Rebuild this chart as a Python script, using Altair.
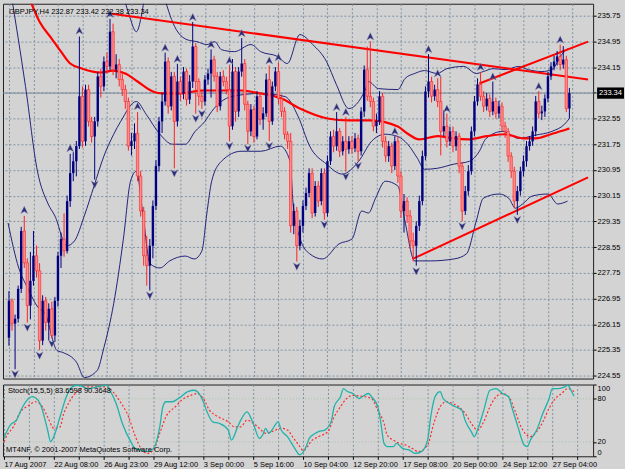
import json
import altair as alt
import pandas as pd

# ---------------- price data (GBPJPY H4) ----------------
FIRST_OPEN = 225.73
CLOSE = [226.88, 226.17, 226.32, 227.25, 229.05, 228.06, 226.73, 227.50, 228.28, 227.81,
         225.64, 226.88, 226.20, 226.63, 225.80, 226.88, 228.28, 228.80, 228.43, 229.98,
         230.85, 231.22, 231.69, 233.24, 231.84, 233.45, 232.46, 231.99, 232.46, 233.86,
         233.55, 234.32, 234.17, 235.25, 234.07, 234.23, 233.76, 233.45, 233.08, 231.69,
         231.84, 232.09, 230.76, 229.67, 228.28, 227.97, 228.59, 229.83, 231.07, 232.46,
         233.08, 234.32, 232.93, 233.86, 232.46, 233.70, 233.33, 234.01, 233.14, 233.70,
         234.79, 233.70, 233.24, 233.08, 233.76, 233.95, 234.38, 233.86, 232.93, 233.86,
         233.70, 233.45, 232.31, 234.01, 232.77, 234.01, 234.26, 232.99, 232.15, 232.83,
         231.99, 233.24, 232.52, 232.71, 233.76, 232.46, 233.55, 234.01, 233.17, 232.77,
         232.06, 231.84, 229.21, 229.67, 228.59, 229.21, 229.83, 230.23, 230.85, 229.61,
         230.45, 229.98, 230.85, 229.61, 231.22, 231.99, 231.69, 232.15, 231.53, 231.84,
         231.59, 231.84, 231.62, 231.93, 231.53, 232.77, 234.07, 233.24, 233.08, 232.31,
         232.46, 233.24, 231.84, 231.38, 231.69, 231.07, 231.84, 230.76, 229.67, 229.98,
         229.52, 228.74, 228.59, 229.21, 229.98, 231.38, 233.39, 233.70, 233.24, 233.45,
         233.08, 232.15, 232.31, 231.84, 232.15, 231.69, 232.00, 231.07, 229.67, 230.29,
         230.91, 232.15, 233.08, 233.61, 233.24, 232.93, 233.17, 232.77, 233.08, 232.71,
         232.93, 232.31, 232.15, 231.38, 230.91, 229.98, 230.29, 230.91, 231.22, 231.69,
         231.84, 232.15, 233.08, 232.71, 232.77, 233.17, 233.86, 234.17, 234.32, 234.48,
         234.23, 234.38, 232.86, 233.34]
HIGH = [227.18, 226.95, 226.45, 227.35, 229.18, 229.52, 228.20, 228.40, 229.05, 228.60,
        228.05, 227.05, 227.00, 226.80, 226.85, 227.00, 228.40, 229.00, 229.60, 230.15,
        231.45, 231.50, 231.85, 235.10, 233.55, 233.60, 233.60, 232.60, 232.60, 234.00,
        234.10, 234.48, 234.60, 235.65, 235.50, 234.55, 234.40, 233.95, 233.60, 233.20,
        232.10, 232.40, 232.75, 230.92, 229.80, 228.90, 228.80, 230.00, 231.25, 232.60,
        233.35, 234.60, 234.45, 234.00, 234.00, 234.25, 233.85, 234.15, 234.10, 233.90,
        235.55, 234.90, 233.80, 233.40, 233.90, 234.10, 234.70, 234.50, 234.00, 234.00,
        234.05, 233.85, 234.20, 234.40, 234.15, 234.15, 235.05, 234.40, 233.10, 233.00,
        232.95, 233.40, 233.35, 232.90, 233.95, 234.20, 233.70, 234.15, 234.30, 233.30,
        232.90, 232.15, 232.10, 229.90, 229.80, 229.40, 230.00, 230.40, 231.00, 231.00,
        230.60, 230.60, 231.00, 231.00, 231.40, 232.15, 232.20, 232.75, 232.25, 232.00,
        232.60, 232.00, 232.00, 232.10, 232.05, 232.90, 234.20, 234.79, 234.95, 233.20,
        232.70, 233.40, 233.35, 232.00, 231.85, 231.80, 232.00, 232.00, 230.90, 230.20,
        230.10, 229.70, 229.00, 229.35, 230.15, 231.55, 233.55, 234.55, 233.85, 233.60,
        233.80, 233.85, 232.80, 232.70, 232.30, 232.30, 232.15, 232.10, 231.20, 230.45,
        231.10, 232.30, 233.25, 233.80, 234.00, 233.40, 233.35, 233.30, 233.70, 233.20,
        233.10, 233.05, 232.45, 232.25, 231.50, 231.05, 230.45, 231.05, 231.40, 231.85,
        232.00, 232.30, 233.25, 233.40, 232.95, 233.30, 234.00, 234.30, 234.50, 234.65,
        234.85, 234.80, 234.50, 233.50]
LOW = [225.48, 225.95, 224.75, 226.20, 227.12, 227.90, 226.20, 226.30, 227.35, 227.60,
       225.35, 225.50, 225.95, 225.65, 225.72, 225.60, 226.70, 227.90, 228.25, 228.35,
       229.80, 230.60, 230.75, 231.60, 231.65, 231.70, 232.30, 231.80, 230.65, 232.30,
       233.20, 233.40, 233.95, 234.05, 233.90, 233.80, 233.55, 233.25, 232.85, 231.55,
       231.40, 231.60, 230.60, 229.50, 227.97, 227.35, 227.20, 228.20, 229.70, 230.90,
       232.10, 232.95, 232.70, 232.80, 231.00, 232.30, 233.10, 233.15, 232.95, 233.00,
       233.50, 232.70, 232.95, 232.85, 232.95, 233.60, 233.20, 233.70, 232.75, 232.80,
       233.55, 233.30, 231.85, 232.20, 232.45, 232.60, 233.85, 232.80, 231.75, 232.00,
       231.80, 231.90, 232.35, 232.20, 232.60, 231.85, 232.35, 233.40, 233.00, 232.60,
       231.90, 231.60, 229.00, 228.95, 228.10, 228.45, 229.00, 229.70, 230.10, 229.45,
       229.50, 229.80, 229.85, 229.40, 229.50, 231.10, 231.50, 231.55, 231.35, 231.40,
       230.90, 231.45, 231.45, 231.50, 231.22, 231.40, 232.60, 233.10, 232.90, 232.15,
       232.10, 232.35, 231.65, 231.20, 231.20, 230.85, 230.95, 230.55, 229.45, 229.00,
       229.30, 228.50, 228.10, 227.97, 229.05, 229.85, 231.25, 233.20, 233.05, 233.10,
       232.90, 231.40, 232.00, 231.65, 231.70, 231.50, 231.55, 230.85, 229.35, 229.55,
       230.15, 230.80, 232.00, 232.95, 233.10, 232.75, 232.80, 232.60, 232.65, 232.55,
       232.55, 232.15, 231.95, 231.20, 230.70, 229.75, 229.55, 230.15, 230.75, 231.05,
       231.55, 231.70, 232.00, 232.55, 232.50, 232.60, 233.05, 233.75, 234.05, 234.20,
       234.05, 234.10, 232.75, 232.55]

# moving average (red)
MA_I = [6, 10, 14, 17, 20, 24, 30, 34, 38, 42, 47, 50, 56, 63, 69, 76, 82, 89, 95, 104,
        111, 118, 127, 130, 134, 140, 145, 150, 156, 162, 168, 172, 177, 182, 183]
MA_P = [236.45, 235.56, 235.03, 234.63, 234.26, 234.10, 233.98, 234.04, 233.95, 233.70,
        233.39, 233.33, 233.33, 233.42, 233.42, 233.42, 233.33, 233.17, 232.86, 232.55,
        232.49, 232.49, 232.30, 232.09, 231.90, 232.00, 231.93, 231.90, 232.00, 232.06,
        231.93, 231.93, 232.06, 232.21, 232.24]

# Bollinger bands (navy)
UP1_I = [37.1, 39.4, 41.6, 43.2, 44.5]
UP1_P = [236.49, 235.72, 235.25, 235.72, 236.49]
UP2_I = [50.2, 54.1, 58.2, 61.4, 64.6, 67.2, 69.4, 73.6, 79.0, 82.2, 87.7, 90.9, 95.0, 99.2,
         103.7, 106.9, 111.0, 114.2, 116.5, 117.4, 120.6, 127.0, 129.3, 132.5, 135.7, 139.8,
         143.0, 148.5, 152.6, 154.9, 158.1, 162.2, 166.4, 169.6, 174.0, 177.3, 180.5, 182.4]
UP2_P = [236.49, 235.41, 235.00, 234.94, 234.85, 234.94, 234.69, 234.63, 234.85, 234.63,
         234.48, 234.26, 235.16, 234.85, 234.32, 233.61, 232.86, 233.08, 233.48, 233.70,
         233.48, 233.45, 233.79, 233.95, 234.04, 233.95, 234.10, 234.17, 233.95, 234.01,
         234.10, 234.07, 234.17, 234.07, 234.01, 234.07, 234.54, 234.72]
MID_I = [0.6, 5.4, 9.3, 12.8, 15.0, 18.9, 21.4, 24.6, 27.8, 31.0, 34.2, 36.5, 41.6, 44.8,
         49.3, 53.4, 57.6, 60.8, 64.0, 66.2, 72.6, 82.2, 90.2, 94.4, 98.2, 103.7, 108.8,
         114.2, 118.4, 122.9, 127.0, 130.2, 133.4, 135.7, 139.8, 145.3, 150.4, 153.6, 155.8,
         161.3, 166.4, 171.8, 177.3, 181.4, 183.0]
MID_P = [236.49, 233.55, 230.91, 229.89, 229.52, 228.59, 228.74, 229.52, 230.45, 231.38,
         232.06, 232.46, 233.08, 232.68, 232.06, 231.75, 231.75, 232.15, 232.46, 232.77,
         233.23, 233.33, 233.23, 232.62, 231.69, 231.13, 230.82, 231.22, 231.84, 232.06,
         231.99, 231.75, 231.31, 230.97, 231.00, 231.13, 231.22, 231.53, 231.93, 232.15,
         231.93, 232.03, 232.15, 232.37, 232.55]
LOW_I = [-0.3, 3.2, 6.1, 9.6, 11.8, 15.7, 17.6, 22.1, 24.6, 28.8, 31.0, 34.2, 37.4, 39.7,
         41.6, 43.8, 46.1, 49.3, 52.5, 57.6, 60.5, 63.0, 64.6, 66.2, 69.4, 75.8, 82.2, 88.6,
         91.8, 92.8, 95.0, 98.2, 102.4, 107.8, 112.0, 115.2, 117.4, 119.7, 122.9, 127.0,
         129.3, 132.5, 137.6, 145.3, 149.4, 152.6, 154.9, 160.0, 163.2, 165.4, 167.7, 170.9,
         176.0, 179.2, 182.4]
LOW_P = [229.30, 227.90, 227.28, 226.66, 226.48, 225.33, 225.27, 224.96, 224.49, 224.71,
         225.42, 226.79, 228.83, 230.60, 230.91, 229.52, 228.03, 227.90, 228.12, 228.27,
         228.18, 228.43, 229.58, 230.60, 231.22, 231.53, 231.53, 231.69, 231.22, 229.89,
         228.83, 228.34, 228.18, 228.65, 228.80, 229.67, 229.61, 230.07, 230.60, 230.45,
         229.36, 228.12, 228.12, 228.18, 228.34, 229.36, 230.07, 230.20, 230.07, 229.76,
         229.89, 230.14, 230.20, 229.89, 229.98]

# trend lines (red)
TL_NAME = ["res", "res", "chan", "chan", "sup", "sup"]
TL_I = [33.6, 189.1, 153.6, 189.1, 131.8, 189.1]
TL_P = [235.81, 233.76, 233.64, 234.94, 228.18, 230.72]

# fractals
FUP_I = [5, 20, 23, 33, 42, 51, 55, 60, 66, 72, 76, 85, 88, 107, 110, 118, 126, 137, 140,
         143, 154, 158, 173, 180]
FUP_P = [229.70, 231.62, 235.28, 235.80, 232.93, 234.75, 234.40, 235.70, 234.85, 234.35,
         235.20, 234.35, 234.45, 232.90, 232.75, 235.10, 232.15, 234.70, 233.95, 232.85,
         234.15, 233.85, 233.55, 235.00]
FDN_I = [2, 6, 10, 14, 28, 46, 54, 61, 63, 72, 78, 85, 94, 103, 110, 114, 133, 148, 166]
FDN_P = [224.60, 226.05, 225.18, 225.55, 230.50, 227.05, 230.85, 232.55, 232.70, 231.70,
         231.62, 231.70, 227.95, 229.25, 230.75, 231.08, 227.80, 229.20, 229.40]

# stochastic (15,5,5)
K_I = [0, 2, 4, 6, 9, 11, 12, 14, 15, 16, 18, 20, 22, 24, 27, 30, 33, 34, 36, 38, 41, 42,
       44, 46, 48, 50, 51, 52, 54, 56, 59, 61, 63, 64, 65, 67, 69, 72, 73, 75, 76, 78, 80,
       82, 83, 84, 85, 86, 88, 89, 91, 93, 95, 97, 98, 100, 101, 103, 105, 106, 108, 109,
       110, 112, 114, 115, 117, 118, 120, 121, 122, 123, 125, 126, 128, 130, 132, 134, 136,
       137, 138, 139, 140, 141, 143, 145, 147, 148, 150, 151, 152, 154, 156, 158, 160, 162,
       163, 165, 167, 168, 169, 171, 173, 175, 176, 178, 180, 181, 182, 183]
K_V = [26, 43.5, 50.4, 69, 83, 78, 69, 36.5, 20.4, 27.4, 55, 83, 97, 99, 94.4, 96.8, 99, 92,
       73.6, 45.8, 18, 11, 8.8, 6.5, 11, 41, 69, 76, 76, 80.5, 90, 92, 85, 76, 64, 48, 46,
       36.5, 22.6, 41, 50.4, 62, 46, 25, 29.6, 39, 32, 36.5, 48, 36.5, 27.4, 13.5, 2, 13.5,
       25, 32, 34.3, 36.5, 48, 69, 83, 94.4, 91, 87.5, 80.5, 83, 87.5, 83, 69, 46, 18, 13.5,
       13.5, 18, 11, 8.8, 4, 6.5, 22.6, 55, 78, 87.5, 90, 80.5, 73.6, 69, 64, 50.4, 34.3,
       27.4, 36.5, 64, 92, 94.4, 87.5, 83, 69, 41, 15.7, 13.5, 22.6, 36.5, 60, 80.5, 94.4,
       94.4, 96.8, 99, 92, 83.66]
D_I = [0, 1, 3, 5, 8, 10, 12, 14, 16, 18, 19, 21, 24, 26, 28, 31, 33, 35, 37, 40, 42, 44,
       46, 48, 50, 52, 55, 57, 60, 62, 64, 66, 68, 72, 74, 76, 78, 80, 82, 84, 86, 89, 91,
       93, 95, 96, 99, 101, 104, 106, 108, 110, 112, 114, 116, 118, 120, 122, 123, 125, 127,
       129, 131, 133, 136, 138, 140, 142, 144, 146, 148, 150, 152, 154, 156, 158, 160, 162,
       164, 166, 169, 171, 173, 175, 177, 179, 181, 183]
D_V = [20.4, 29.6, 41, 60, 71, 76, 71, 55, 39, 41, 57, 76, 92, 96.8, 96.8, 96.8, 96.8, 90,
       78, 55, 29.6, 11, 4, 8.8, 32, 55, 69, 78, 85, 87.5, 80.5, 64, 57, 48, 41, 41, 50.4,
       46, 39, 32, 34.3, 39, 36.5, 25, 13.5, 8, 22.6, 27.4, 34.3, 55, 69, 80.5, 85, 84, 83,
       80.5, 64, 46, 29.6, 22.6, 18, 15.7, 11, 6.5, 15.7, 46, 69, 76, 73.6, 69, 60, 46,
       36.5, 48, 69, 83, 87.5, 83, 64, 41, 27.4, 34.3, 48, 67, 80.5, 87.5, 94.4, 90.36]

# axis text
PRICE_TICKS = [235.75, 234.95, 234.15, 233.35, 232.55, 231.75, 230.95, 230.15, 229.35,
               228.55, 227.75, 226.95, 226.15, 225.35, 224.55]
LAST_PRICE = 233.34
DATE_LABELS = ["17 Aug 2007", "22 Aug 08:00", "26 Aug 23:00", "29 Aug 12:00", "3 Sep 00:00",
               "5 Sep 16:00", "10 Sep 04:00", "12 Sep 20:00", "17 Sep 08:00", "20 Sep 00:00",
               "24 Sep 12:00", "27 Sep 04:00"]
HEADER = "GBPJPY,H4  232.87 233.42 232.38 233.34"
STOCH_HEADER = "Stoch(15,5,5) 83.6598 90.3648"
COPYRIGHT = "MT4NF, \u00a9 2001-2007 MetaQuotes Software Corp."

# ---------------- styling ----------------
FONT = "Liberation Sans"
FS = 7.5
BG = "#D3D3D3"
GRID = "#7f93a3"
NAVY = "#000080"
BAND = "#22227a"
W, H_MAIN, H_STOCH = 592, 376, 72
X_DOM = [-0.32, 189.12]
Y_DOM = [224.46, 236.12]

opens = [FIRST_OPEN] + CLOSE[:-1]
bars = pd.DataFrame({"i": list(range(len(CLOSE))), "open": opens, "high": HIGH,
                     "low": LOW, "close": CLOSE})
bars["dir"] = ["up" if c >= o else "dn" for o, c in zip(opens, CLOSE)]

xs = alt.Scale(domain=X_DOM, nice=False, zero=False)
ys = alt.Scale(domain=Y_DOM, nice=False, zero=False)
grid_vals = list(range(0, 185, 8))

x_main = alt.X("i:Q", scale=xs, title=None,
               axis=alt.Axis(values=grid_vals, labels=False, ticks=False, domain=False,
                             grid=True, gridDash=[2, 2], gridColor=GRID, gridOpacity=1))
y_axis = alt.Axis(orient="right", values=PRICE_TICKS, format=".2f",
                  labelExpr="datum.value == 233.35 ? '' : format(datum.value, '.2f')",
                  grid=True, gridDash=[2, 2], gridColor=GRID, gridOpacity=1,
                  domain=False, tickSize=3, tickColor="#000000", labelPadding=1,
                  labelFont=FONT, labelFontSize=FS, labelColor="#000000",
                  labelOverlap=False, labelFlush=False, title=None)


def yq(field):
    return alt.Y(field + ":Q", scale=ys, title=None, axis=y_axis)


base = alt.Chart(bars)

price_line = alt.Chart(pd.DataFrame({"p": [LAST_PRICE]})).mark_rule(
    color="#7a8a9a", strokeWidth=1).encode(y=yq("p"))

wick_up = base.transform_filter("datum.dir == 'up'").mark_rule(
    color=NAVY, strokeWidth=1).encode(x=x_main, y=yq("low"), y2="high:Q")
wick_dn = base.transform_filter("datum.dir == 'dn'").mark_rule(
    color="#ff2020", strokeWidth=1).encode(x=x_main, y=yq("low"), y2="high:Q")
body_up = base.transform_filter("datum.dir == 'up'").mark_bar(
    size=2.4, color=NAVY).encode(x=x_main, y=yq("open"), y2="close:Q")
body_dn = base.transform_filter("datum.dir == 'dn'").mark_bar(
    size=2.4, fill="#ff8c8c", stroke="#ff2020", strokeWidth=0.6).encode(
    x=x_main, y=yq("open"), y2="close:Q")

band_rows = []
for name, ii, pp in [("u1", UP1_I, UP1_P), ("u2", UP2_I, UP2_P), ("m", MID_I, MID_P),
                     ("l", LOW_I, LOW_P)]:
    for a, b in zip(ii, pp):
        band_rows.append({"line": name, "i": a, "p": b})
bands = alt.Chart(pd.DataFrame(band_rows)).mark_line(
    color=BAND, strokeWidth=1, clip=True, interpolate="monotone").encode(
    x=x_main, y=yq("p"), detail="line:N", order="i:Q")

ma = alt.Chart(pd.DataFrame({"i": MA_I, "p": MA_P})).mark_line(
    color="#ff0000", strokeWidth=2.2, clip=True, interpolate="monotone").encode(
    x=x_main, y=yq("p"))

tl = alt.Chart(pd.DataFrame({"name": TL_NAME, "i": TL_I, "p": TL_P})).mark_line(
    color="#ff0000", strokeWidth=2, clip=True).encode(
    x=x_main, y=yq("p"), detail="name:N")

up_shape = "M0,-1L0.9,0.9L0,0.35L-0.9,0.9Z"
dn_shape = "M0,1L0.9,-0.9L0,-0.35L-0.9,-0.9Z"
frac_up = alt.Chart(pd.DataFrame({"i": FUP_I, "p": FUP_P})).mark_point(
    shape=up_shape, filled=True, fill="#2a2a78", stroke="#8a8ab0", strokeWidth=0.4,
    size=60, opacity=1).encode(x=x_main, y=yq("p"))
frac_dn = alt.Chart(pd.DataFrame({"i": FDN_I, "p": FDN_P})).mark_point(
    shape=dn_shape, filled=True, fill="#2a2a78", stroke="#8a8ab0", strokeWidth=0.4,
    size=60, opacity=1).encode(x=x_main, y=yq("p"))

box_df = pd.DataFrame({"t": [f"{LAST_PRICE:.2f}"], "top": [LAST_PRICE + 0.175],
                       "bot": [LAST_PRICE - 0.175], "p": [LAST_PRICE]})
price_box = alt.Chart(box_df).mark_rect(color="#000000").encode(
    x=alt.value(596), x2=alt.value(623), y=yq("top"), y2="bot:Q")
price_txt = alt.Chart(box_df).mark_text(
    align="left", baseline="middle", font=FONT, fontSize=FS, color="#ffffff").encode(
    x=alt.value(598), y=yq("p"), text="t:N")

header = alt.Chart(pd.DataFrame({"t": [HEADER]})).mark_text(
    align="left", baseline="middle", font=FONT, fontSize=FS, color="#000000").encode(
    x=alt.value(6), y=alt.value(8), text="t:N")

main = alt.layer(price_line, bands, ma, tl, wick_up, wick_dn, body_up, body_dn,
                 frac_up, frac_dn, price_box, price_txt, header).properties(
    width=W, height=H_MAIN)

# ---------------- stochastic panel ----------------
label_expr = ("datum.value % 16 == 0 ? " + json.dumps(DATE_LABELS) +
              "[datum.value / 16] : ''")
x_st = alt.X("i:Q", scale=xs, title=None,
             axis=alt.Axis(values=grid_vals, labelExpr=label_expr, labelAlign="left",
                           labelPadding=1, labelFont=FONT, labelFontSize=FS,
                           labelColor="#000000", labelOverlap=False, labelFlush=False,
                           tickSize=3, tickColor="#000000", domain=False, grid=True,
                           gridDash=[2, 2], gridColor=GRID, gridOpacity=1))
ss = alt.Scale(domain=[0, 100], nice=False, zero=False)
y_st_axis = alt.Axis(orient="right", values=[0, 20, 80, 100], grid=False, domain=False,
                     tickSize=3, tickColor="#000000", labelPadding=1, labelFont=FONT,
                     labelFontSize=FS, labelColor="#000000", labelOverlap=False,
                     labelFlush=True, title=None)

k_df = pd.DataFrame({"i": K_I, "v": K_V})
d_df = pd.DataFrame({"i": D_I, "v": D_V})
lvl = alt.Chart(pd.DataFrame({"v": [20, 80]})).mark_rule(
    color="#a9c3a9", strokeDash=[1, 2], strokeWidth=1).encode(
    y=alt.Y("v:Q", scale=ss, title=None, axis=y_st_axis))
k_line = alt.Chart(k_df).mark_line(color="#20B2AA", strokeWidth=1.3,
                                   interpolate="monotone", clip=True).encode(
    x=x_st, y=alt.Y("v:Q", scale=ss, title=None, axis=y_st_axis))
d_line = alt.Chart(d_df).mark_line(color="#ff2a2a", strokeWidth=1.2, strokeDash=[2, 2],
                                   interpolate="monotone", clip=True).encode(
    x=x_st, y=alt.Y("v:Q", scale=ss, title=None, axis=y_st_axis))
st_head = alt.Chart(pd.DataFrame({"t": [STOCH_HEADER]})).mark_text(
    align="left", baseline="middle", font=FONT, fontSize=FS, color="#000000").encode(
    x=alt.value(5), y=alt.value(7), text="t:N")
st_copy = alt.Chart(pd.DataFrame({"t": [COPYRIGHT]})).mark_text(
    align="left", baseline="middle", font=FONT, fontSize=FS, color="#000000").encode(
    x=alt.value(3), y=alt.value(66), text="t:N")

stoch = alt.layer(lvl, d_line, k_line, st_head, st_copy).properties(width=W, height=H_STOCH)

chart = alt.vconcat(main, stoch, spacing=3).configure(
    background=BG, padding={"left": 2, "top": 2, "right": 0, "bottom": 0}
).configure_view(stroke="#202020", strokeWidth=1)

chart.save("out.html", embed_options={"renderer": "svg", "actions": False})
